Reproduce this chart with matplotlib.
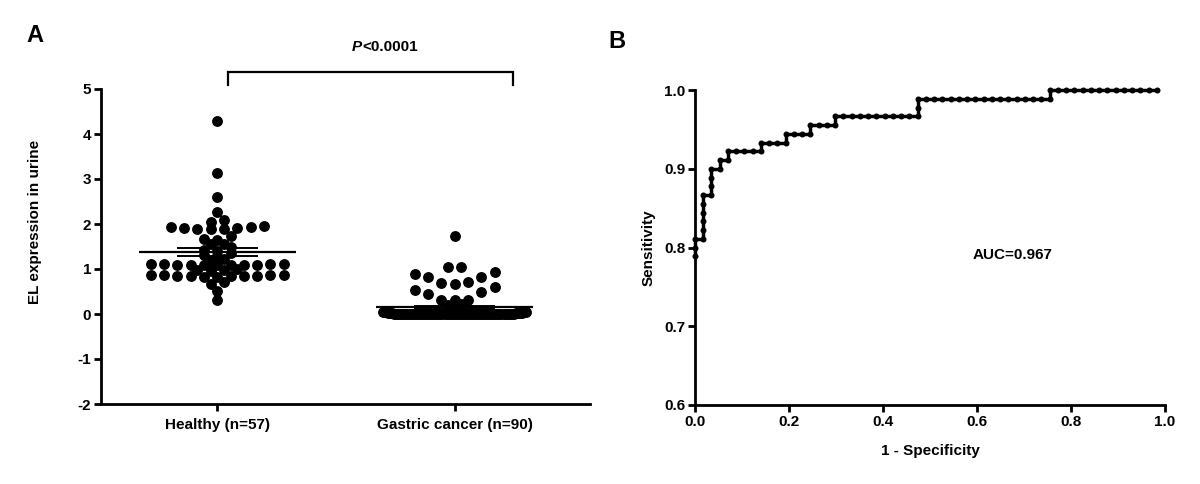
import matplotlib
matplotlib.use("Agg")
import matplotlib.pyplot as plt
import numpy as np

plt.rcParams['font.family'] = ['Liberation Sans', 'DejaVu Sans']
plt.rcParams['font.weight'] = 'bold'
plt.rcParams['axes.unicode_minus'] = False

# ---- data ----
group_labels = ["Healthy (n=57)", "Gastric cancer (n=90)"]

healthy = [4.29, 3.14, 2.61, 2.27, 2.09, 2.04,
           1.95, 1.93, 1.92, 1.90, 1.88, 1.89, 1.91, 1.94,
           1.73, 1.66, 1.64,
           1.55, 1.55,
           1.48, 1.43, 1.40,
           1.36, 1.32, 1.29,
           1.22, 1.18,
           1.12, 1.11, 1.10, 1.10, 1.09, 1.08, 1.10, 1.11, 1.09, 1.12, 1.08,
           1.00, 0.98, 0.97, 0.96,
           0.87, 0.86, 0.85, 0.84, 0.83, 0.85, 0.86, 0.84, 0.83, 0.87, 0.85,
           0.72, 0.67, 0.51, 0.31]

cancer = ([1.73, 1.05, 1.04,
           0.93, 0.90, 0.83, 0.82, 0.72, 0.70, 0.66,
           0.61, 0.53, 0.48, 0.44, 0.32, 0.31, 0.31,
           0.22, 0.20,
           0.05, 0.05, 0.04, 0.04, 0.03, 0.03, 0.03, 0.02, 0.02, 0.02, 0.02]
          + [0.01] * 10 + [0.0] * 50)

p_label = "<0.0001"

# ROC corners: false positives (of 57 healthy) / true positives (of 90 cancer)
n_healthy, n_cancer = 57, 90
roc_fp = [0, 0, 1, 1, 2, 2, 3, 3, 4, 4, 8, 8, 11, 11, 14, 14, 17, 17, 27, 27, 43, 43, 56]
roc_tp = [71, 73, 73, 78, 78, 81, 81, 82, 82, 83, 83, 84, 84, 85, 85, 86, 86, 87, 87, 89, 89, 90, 90]
auc_label = "AUC=0.967"

FS = 11


def row_offsets(values, edges, step, max_half):
    # GraphPad-like scatter: values binned into rows, lowest value in the middle
    values = np.asarray(values, dtype=float)
    bins = np.digitize(values, edges)
    xs = np.zeros(len(values))
    for b in np.unique(bins):
        idx = np.where(bins == b)[0]
        n = len(idx)
        slots = (np.arange(n) - (n - 1) / 2) * step
        if n > 1 and slots[-1] > max_half:
            slots = slots * max_half / slots[-1]
        slot_order = np.argsort(np.abs(slots), kind='stable')
        val_order = idx[np.argsort(values[idx], kind='stable')]
        xs[val_order] = slots[slot_order]
    return xs


fig = plt.figure(figsize=(12, 4.84), dpi=100)
W, H = 1200, 484

# ---------------- panel A ----------------
ax = fig.add_axes([101 / W, 1 - 404 / H, (590 - 101) / W, (404 - 89) / H])
step = 0.056
groups = [(healthy, np.arange(-0.06, 4.6, 0.12)),
          (cancer, np.array([0.1, 0.28, 0.62, 0.96, 1.3]))]
for i, (vals, edges) in enumerate(groups):
    vals = np.asarray(vals)
    xs = i + row_offsets(vals, edges, step, 0.3)
    ax.plot(xs, vals, 'o', ms=6.8, color='black', mec='black', zorder=2, clip_on=False)
    m = vals.mean()
    sem = vals.std(ddof=1) / np.sqrt(len(vals))
    ax.hlines(m, i - 0.33, i + 0.33, color='black', lw=1.6, zorder=3)
    ax.hlines([m - sem, m + sem], i - 0.17, i + 0.17, color='black', lw=1.4, zorder=3)

ax.set_xlim(-0.49, 1.57)
ax.set_ylim(-2, 5)
ax.set_yticks(range(-2, 6))
ax.set_yticklabels([str(v) for v in range(-2, 6)])
ax.set_xticks([0, 1])
ax.set_xticklabels(group_labels)
ax.tick_params(axis='x', pad=5)
fig.text(35 / W, 1 - 222 / H, "EL expression in urine", rotation=90, fontsize=FS,
         fontweight='bold', ha='center', va='center')

# significance bracket
bx0, bx1, by, bdrop = 0.046, 1.245, 5.38, 0.3
ax.plot([bx0, bx0, bx1, bx1], [by - bdrop, by, by, by - bdrop], color='black', lw=1.6,
        clip_on=False, solid_joinstyle='miter')
t1 = ax.text(0.61, 5.93, "P", fontsize=FS, fontweight='bold', fontstyle='italic',
             ha='right', va='center', clip_on=False)
ax.annotate(p_label, xy=(1, 0.5), xycoords=t1, fontsize=FS, fontweight='bold',
            ha='left', va='center')

# ---------------- panel B ----------------
bx = fig.add_axes([695 / W, 1 - 405 / H, (1165 - 695) / W, (405 - 90) / H])
fpr = np.array(roc_fp) / n_healthy
tpr = np.array(roc_tp) / n_cancer
bx.plot(fpr, tpr, color='black', lw=2.5, solid_joinstyle='miter', clip_on=False, zorder=3)

# each threshold of the ROC table is a point on the staircase
pts = [(roc_fp[0], roc_tp[0])]
for f0, t0, f1, t1_ in zip(roc_fp[:-1], roc_tp[:-1], roc_fp[1:], roc_tp[1:]):
    for f in range(f0 + 1, f1 + 1):
        pts.append((f, t0))
    for t in range(t0 + 1, t1_ + 1):
        pts.append((f1, t))
pts = np.array(pts, dtype=float)
bx.plot(pts[:, 0] / n_healthy, pts[:, 1] / n_cancer, 'o', ms=3.3, color='black',
        clip_on=False, zorder=4)

bx.set_xlim(0, 1)
bx.set_ylim(0.6, 1.0)
bx.set_xticks(np.linspace(0, 1, 6))
bx.set_xticklabels([f"{v:.1f}" for v in np.linspace(0, 1, 6)])
bx.set_yticks([0.6, 0.7, 0.8, 0.9, 1.0])
bx.set_yticklabels(["0.6", "0.7", "0.8", "0.9", "1.0"])
bx.set_xlabel("1 - Specificity", fontsize=FS, fontweight='bold', labelpad=11)
bx.set_ylabel("Sensitivity", fontsize=FS, fontweight='bold', labelpad=6)
bx.text(0.675, 0.79, auc_label, fontsize=FS, fontweight='bold', ha='center', va='center')

for a in (ax, bx):
    for s in ('top', 'right'):
        a.spines[s].set_visible(False)
    for s in ('left', 'bottom'):
        a.spines[s].set_linewidth(2.0)
        a.spines[s].set_capstyle('projecting')
    a.tick_params(width=2.0, length=5, labelsize=FS, direction='out')
ax.tick_params(axis='y', pad=2)
bx.tick_params(pad=2)

fig.text(35 / W, 1 - 35 / H, "A", fontsize=17, fontweight='bold', ha='center', va='center')
fig.text(617 / W, 1 - 42 / H, "B", fontsize=17, fontweight='bold', ha='center', va='center')

fig.savefig("out.png", dpi=100, facecolor='white')
